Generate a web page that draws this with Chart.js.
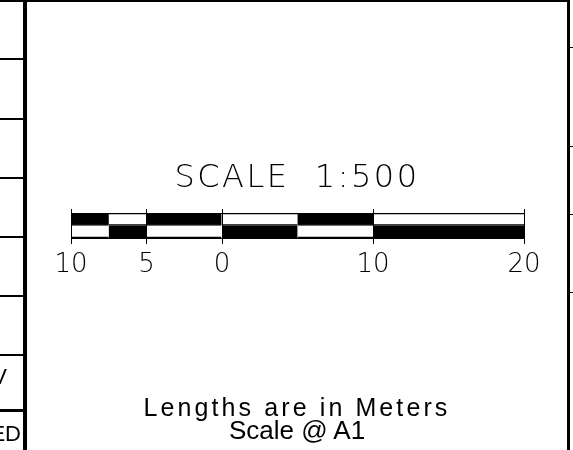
<!DOCTYPE html>
<html>
<head>
<meta charset="utf-8">
<script src="https://cdn.jsdelivr.net/npm/chart.js@4/dist/chart.umd.min.js"></script>
<style>
  html, body { margin: 0; padding: 0; background: #fff; }
  #wrap { position: relative; width: 573px; height: 450px; overflow: hidden; background: #fff; }
  #chart { position: absolute; left: 0; top: 0; }
  .ln { position: absolute; background: #000; }
  .txt { position: absolute; color: #000; white-space: nowrap; }
  .gothic { font-family: "DejaVu Sans", sans-serif; font-weight: 200; }
  .arial { font-family: "Liberation Sans", Arial, sans-serif; }
</style>
</head>
<body>
<div id="wrap">
  <canvas id="chart" width="573" height="450"></canvas>

  <!-- drawing frame -->
  <div class="ln" style="left:0;top:0;width:570px;height:2px"></div>
  <div class="ln" style="left:23px;top:0;width:4px;height:450px"></div>
  <div class="ln" style="left:567px;top:0;width:3px;height:450px"></div>
  <div class="ln" style="left:0;top:58px;width:24px;height:1.5px"></div>
  <div class="ln" style="left:0;top:118px;width:24px;height:1.5px"></div>
  <div class="ln" style="left:0;top:177px;width:24px;height:1.5px"></div>
  <div class="ln" style="left:0;top:236px;width:24px;height:1.5px"></div>
  <div class="ln" style="left:0;top:295px;width:24px;height:1.5px"></div>
  <div class="ln" style="left:0;top:354px;width:24px;height:1.5px"></div>
  <div class="ln" style="left:0;top:409px;width:24px;height:2.5px"></div>
  <div class="ln" style="left:570px;top:47px;width:3px;height:1px"></div>
  <div class="ln" style="left:570px;top:146px;width:3px;height:1px"></div>
  <div class="ln" style="left:570px;top:214px;width:3px;height:1px"></div>
  <div class="ln" style="left:570px;top:292px;width:3px;height:1px"></div>

  <!-- clipped title-block text on the left -->
  <div class="txt arial" style="left:0;top:364px;width:7px;height:24px;overflow:hidden;direction:rtl;font-size:22px">REV</div>
  <div class="txt arial" style="left:0;top:421px;width:21px;height:26px;overflow:hidden;direction:rtl;font-size:22px">APPROVED</div>

  <div class="txt gothic" style="left:27px;width:540px;top:157px;text-align:center;font-size:32px;letter-spacing:2.5px">SCALE&nbsp;&nbsp;1:500</div>
  <div class="txt arial" style="left:27px;width:540px;top:394px;text-align:center;font-size:25px;line-height:26px;letter-spacing:3.1px">Lengths are in Meters</div>
  <div class="txt arial" style="left:27px;width:540px;top:417px;text-align:center;font-size:26px;line-height:26px">Scale @ A1</div>
</div>

<script>
// scale bar, in metres (left part is shown as 10 .. 0)
const rows = ['top', 'bottom'];
const edges = [-10, -7.5, -5, 0, 5, 10, 20];
const topFill = ['#000', null, '#000', null, '#000', null];
const bottomFill = [null, '#000', null, '#000', null, '#000'];
const tickValues = [-10, -5, 0, 10, 20];
const tickLabels = ['10', '5', '0', '10', '20'];

// one floating bar per segment, both rows share the same span;
// open segments are left unfilled so the tick lines show through
const datasets = topFill.map((c, i) => ({
  data: rows.map(() => [edges[i], edges[i + 1]]),
  backgroundColor: [topFill[i] || 'rgba(0,0,0,0)', bottomFill[i] || 'rgba(0,0,0,0)'],
  borderColor: '#000',
  borderWidth: [
    { top: 1, bottom: 1, left: 0, right: 0 },
    { top: 0, bottom: 1, left: 0, right: 0 }
  ],
  borderSkipped: false,
  grouped: false,
  barPercentage: 1,
  categoryPercentage: 1
}));

const setTicks = scale => { scale.ticks = tickValues.map(v => ({ value: v })); };

new Chart(document.getElementById('chart'), {
  type: 'bar',
  data: { labels: rows, datasets },
  options: {
    indexAxis: 'y',
    responsive: false,
    animation: false,
    layout: { padding: { left: 71, right: 49, top: 209, bottom: 172 } },
    plugins: { legend: { display: false }, tooltip: { enabled: false } },
    scales: {
      y: { display: false },
      x: {
        type: 'linear', position: 'bottom', clip: false,
        min: edges[0], max: edges[edges.length - 1],
        afterBuildTicks: setTicks,
        afterFit: s => { s.height = 40; },
        border: { color: '#000', width: 1 },
        grid: { drawOnChartArea: true, tickLength: 6, color: '#000', tickColor: '#000' },
        ticks: {
          padding: 6, color: '#000',
          font: { family: 'DejaVu Sans', size: 26, weight: 200 },
          callback: (v, i) => tickLabels[i]
        }
      },
      x2: {
        type: 'linear', position: 'top',
        min: edges[0], max: edges[edges.length - 1],
        afterBuildTicks: setTicks,
        afterFit: s => { s.height = 4; },
        border: { color: '#000', width: 1 },
        grid: { drawOnChartArea: false, tickLength: 4, color: '#000', tickColor: '#000' },
        ticks: { display: false }
      }
    }
  }
});
</script>
</body>
</html>
